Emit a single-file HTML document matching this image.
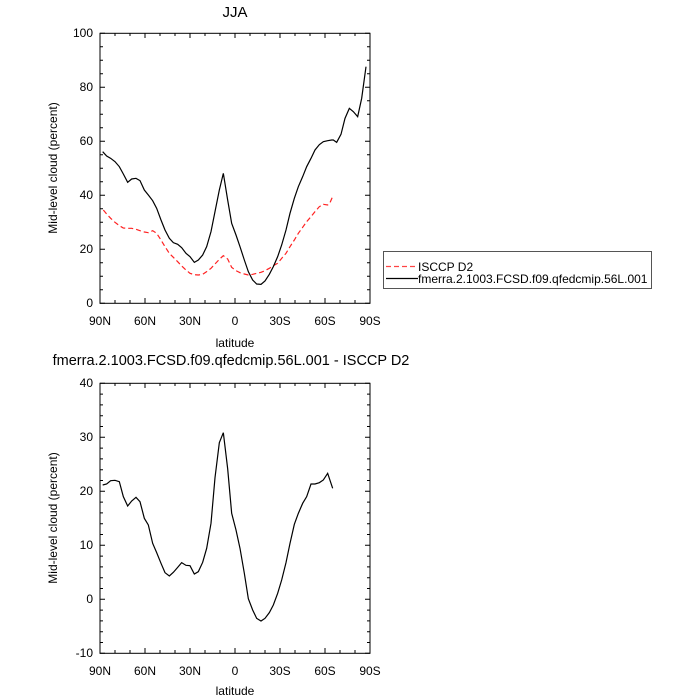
<!DOCTYPE html>
<html><head><style>body{margin:0;background:#fff}svg{display:block}</style></head><body>
<svg width="700" height="700" xmlns="http://www.w3.org/2000/svg" font-family="Liberation Sans, sans-serif">
<rect width="700" height="700" fill="#fff"/>
<text x="235" y="17" font-size="15" text-anchor="middle">JJA</text>
<text x="57" y="168" font-size="12" text-anchor="middle" transform="rotate(-90 57 168)">Mid-level cloud (percent)</text>
<text x="235" y="347" font-size="12" text-anchor="middle">latitude</text>
<text x="231" y="365" font-size="14.5" text-anchor="middle">fmerra.2.1003.FCSD.f09.qfedcmip.56L.001 - ISCCP D2</text>
<text x="57" y="518" font-size="12" text-anchor="middle" transform="rotate(-90 57 518)">Mid-level cloud (percent)</text>
<text x="235" y="695" font-size="12" text-anchor="middle">latitude</text>
<g id="ax" stroke="#000" stroke-width="1" fill="none">
</g>
<g font-size="12" text-anchor="middle">
<text x="100" y="325">90N</text><text x="145" y="325">60N</text><text x="190" y="325">30N</text><text x="235" y="325">0</text><text x="280" y="325">30S</text><text x="325" y="325">60S</text><text x="370" y="325">90S</text>
<text x="100" y="675">90N</text><text x="145" y="675">60N</text><text x="190" y="675">30N</text><text x="235" y="675">0</text><text x="280" y="675">30S</text><text x="325" y="675">60S</text><text x="370" y="675">90S</text>
</g>
<g font-size="12" text-anchor="end">
<text x="93" y="37">100</text><text x="93" y="91">80</text><text x="93" y="145">60</text><text x="93" y="199">40</text><text x="93" y="253">20</text><text x="93" y="307">0</text>
<text x="93" y="387">40</text><text x="93" y="441">30</text><text x="93" y="495">20</text><text x="93" y="549">10</text><text x="93" y="603">0</text><text x="93" y="657">-10</text>
</g>
<rect x="100" y="33.3" width="270" height="270" fill="none" stroke="#000"/>
<rect x="100" y="383.3" width="270" height="270" fill="none" stroke="#000"/>
<g stroke="#000" stroke-width="1">
<path d="M100 33v5M115 33v3M130 33v3M145 33v5M160 33v3M175 33v3M190 33v5M205 33v3M220 33v3M235 33v5M250 33v3M265 33v3M280 33v5M295 33v3M310 33v3M325 33v5M340 33v3M355 33v3
M100 303v-5M115 303v-3M130 303v-3M145 303v-5M160 303v-3M175 303v-3M190 303v-5M205 303v-3M220 303v-3M235 303v-5M250 303v-3M265 303v-3M280 303v-5M295 303v-3M310 303v-3M325 303v-5M340 303v-3M355 303v-3
M100 383v5M115 383v3M130 383v3M145 383v5M160 383v3M175 383v3M190 383v5M205 383v3M220 383v3M235 383v5M250 383v3M265 383v3M280 383v5M295 383v3M310 383v3M325 383v5M340 383v3M355 383v3
M100 653v-5M115 653v-3M130 653v-3M145 653v-5M160 653v-3M175 653v-3M190 653v-5M205 653v-3M220 653v-3M235 653v-5M250 653v-3M265 653v-3M280 653v-5M295 653v-3M310 653v-3M325 653v-5M340 653v-3M355 653v-3"/>
<path d="M100 33.3h5M100 46.8h3M100 60.3h3M100 73.8h3M100 87.3h5M100 100.8h3M100 114.3h3M100 127.8h3M100 141.3h5M100 154.8h3M100 168.3h3M100 181.8h3M100 195.3h5M100 208.8h3M100 222.3h3M100 235.8h3M100 249.3h5M100 262.8h3M100 276.3h3M100 289.8h3M100 303.3h5
M370 33.3h-5M370 46.8h-3M370 60.3h-3M370 73.8h-3M370 87.3h-5M370 100.8h-3M370 114.3h-3M370 127.8h-3M370 141.3h-5M370 154.8h-3M370 168.3h-3M370 181.8h-3M370 195.3h-5M370 208.8h-3M370 222.3h-3M370 235.8h-3M370 249.3h-5M370 262.8h-3M370 276.3h-3M370 289.8h-3M370 303.3h-5
M100 383.3h5M100 394.1h3M100 404.9h3M100 415.7h3M100 426.5h3M100 437.3h5M100 448.1h3M100 458.9h3M100 469.7h3M100 480.5h3M100 491.3h5M100 502.1h3M100 512.9h3M100 523.7h3M100 534.5h3M100 545.3h5M100 556.1h3M100 566.9h3M100 577.7h3M100 588.5h3M100 599.3h5M100 610.1h3M100 620.9h3M100 631.7h3M100 642.5h3M100 653.3h5
M370 383.3h-5M370 394.1h-3M370 404.9h-3M370 415.7h-3M370 426.5h-3M370 437.3h-5M370 448.1h-3M370 458.9h-3M370 469.7h-3M370 480.5h-3M370 491.3h-5M370 502.1h-3M370 512.9h-3M370 523.7h-3M370 534.5h-3M370 545.3h-5M370 556.1h-3M370 566.9h-3M370 577.7h-3M370 588.5h-3M370 599.3h-5M370 610.1h-3M370 620.9h-3M370 631.7h-3M370 642.5h-3M370 653.3h-5"/>
</g>
<g transform="translate(60,20) scale(0.3333333)" fill="none">
<polyline vector-effect="non-scaling-stroke" stroke="#f22" stroke-width="1.2" stroke-dasharray="5,3" points="130,570 140,582 152,595 165,607 178,617 190,624 203,625 215,625 228,628 240,632 253,636 265,638 278,632 290,640 303,660 315,680 328,700 340,712 353,725 365,738 378,750 390,760 403,764 415,765 428,763 440,755 453,745 465,732 478,718 490,707 503,717 515,742 528,752 540,758 553,762 565,765 578,763 590,760 603,757 615,752 628,745 640,737 653,730 665,715 678,700 690,680 703,660 715,640 728,622 740,605 753,590 765,575 778,560 790,553 803,555 810,548 820,525"/>
<polyline vector-effect="non-scaling-stroke" stroke="#000" stroke-width="1.2" points="128,395 140,408 152,415 165,425 178,440 190,462 203,487 215,477 228,475 240,482 253,510 265,525 278,542 290,565 303,600 315,630 328,655 340,668 353,673 365,683 378,700 390,710 403,727 415,720 428,705 440,680 453,635 465,575 478,510 490,460 503,540 515,610 528,645 540,680 553,720 565,755 578,780 590,792 603,793 615,783 628,763 640,740 653,710 665,675 678,630 690,580 703,535 715,500 728,470 740,440 753,415 765,390 778,374 790,365 803,362 815,360 820,360 830,367 843,343 855,295 868,265 880,275 893,290 905,235 918,140"/>
</g>
<g transform="translate(60,370) scale(0.3333333)" fill="none">
<polyline vector-effect="non-scaling-stroke" stroke="#000" stroke-width="1.2" points="128,345 140,342 152,332 165,331 178,335 190,380 203,408 215,393 228,382 240,395 253,445 265,465 278,520 290,548 303,580 315,608 328,618 340,607 353,592 365,578 378,586 390,587 403,612 415,605 428,577 440,535 453,460 465,323 478,218 490,188 503,296 515,430 528,480 540,535 553,610 565,686 578,720 590,745 603,753 615,745 628,728 640,705 653,670 665,630 678,578 690,520 703,463 715,430 728,400 740,380 753,342 765,342 778,338 790,330 803,310 818,355"/>
</g>
<rect x="383.5" y="251.5" width="268" height="37" fill="none" stroke="#555"/>
<line x1="386" y1="266.5" x2="418" y2="266.5" stroke="#f44" stroke-width="1.2" stroke-dasharray="5,3"/>
<line x1="386" y1="278.5" x2="418" y2="278.5" stroke="#000" stroke-width="1.2"/>
<text x="418" y="271" font-size="12">ISCCP D2</text>
<text x="418" y="283" font-size="12">fmerra.2.1003.FCSD.f09.qfedcmip.56L.001</text>
</svg>
</body></html>
